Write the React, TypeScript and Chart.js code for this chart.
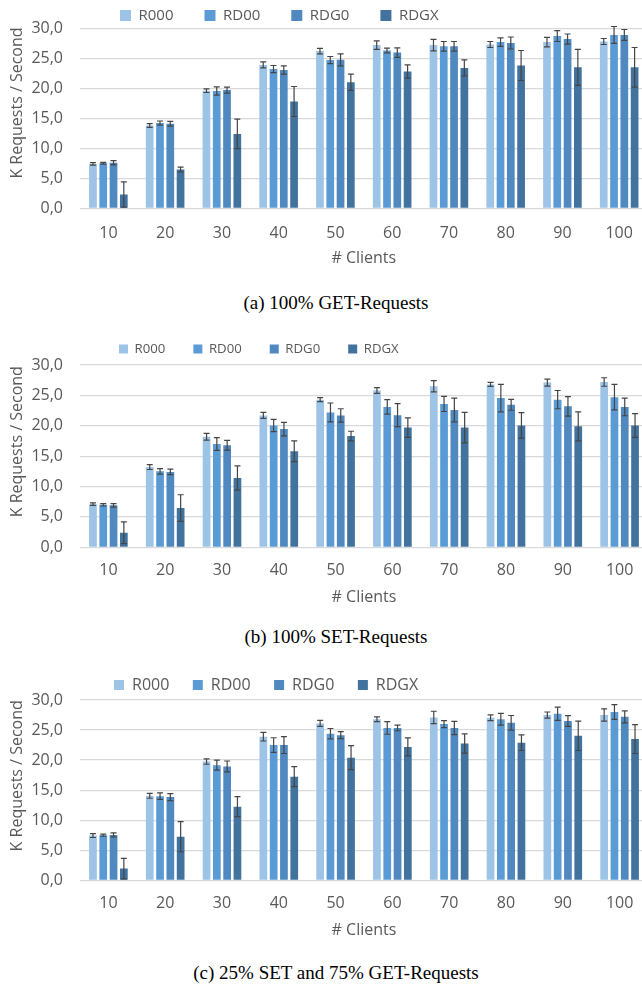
import React, { useEffect, useRef } from "react";
import { Chart, registerables } from "chart.js";

Chart.register(...registerables);

// ---------- data ----------
const clients = ["10", "20", "30", "40", "50", "60", "70", "80", "90", "100"];
const seriesNames = ["R000", "RD00", "RDG0", "RDGX"];
const seriesColors = ["#9DC3E6", "#5B9BD5", "#4F89BF", "#42729E"];
const yTicks = [0, 5, 10, 15, 20, 25, 30];
const yTitle = "K Requests / Second";
const xTitle = "# Clients";

// (a) 100% GET-Requests
const getR000 = [7.4, 13.8, 19.6, 23.9, 26.2, 27.2, 27.2, 27.3, 27.7, 27.8];
const getR000Err = [0.2, 0.3, 0.3, 0.5, 0.45, 0.7, 0.95, 0.5, 0.8, 0.5];
const getRD00 = [7.5, 14.2, 19.55, 23.2, 24.7, 26.3, 27.0, 27.7, 28.7, 28.9];
const getRD00Err = [0.15, 0.35, 0.7, 0.6, 0.6, 0.4, 0.8, 0.7, 0.9, 1.4];
const getRDG0 = [7.6, 14.1, 19.7, 23.05, 24.75, 25.95, 27.0, 27.55, 28.2, 28.9];
const getRDG0Err = [0.35, 0.4, 0.5, 0.7, 1.0, 0.8, 0.8, 1.0, 0.85, 0.9];
const getRDGX = [2.3, 6.45, 12.4, 17.8, 21.0, 22.8, 23.4, 23.8, 23.5, 23.5];
const getRDGXErr = [2.1, 0.4, 2.45, 2.5, 1.35, 1.1, 1.35, 2.5, 3.0, 3.3];

// (b) 100% SET-Requests
const setR000 = [7.1, 13.2, 18.2, 21.7, 24.3, 25.8, 26.5, 26.8, 27.1, 27.2];
const setR000Err = [0.2, 0.4, 0.55, 0.5, 0.33, 0.47, 0.93, 0.33, 0.58, 0.7];
const setRD00 = [7.0, 12.5, 17.0, 20.05, 22.2, 23.1, 23.6, 24.55, 24.3, 24.7];
const setRD00Err = [0.2, 0.45, 1.05, 1.0, 1.55, 1.2, 1.25, 2.25, 1.5, 2.1];
const setRDG0 = [6.9, 12.4, 16.8, 19.45, 21.7, 21.75, 22.6, 23.45, 23.2, 23.1];
const setRDG0Err = [0.3, 0.45, 0.8, 1.1, 1.1, 1.9, 1.95, 0.9, 1.6, 1.45];
const setRDGX = [2.4, 6.45, 11.4, 15.8, 18.3, 19.7, 19.7, 20.05, 19.9, 20.05];
const setRDGXErr = [1.8, 2.2, 2.0, 1.7, 0.8, 1.6, 2.5, 2.1, 2.4, 1.95];

// (c) 25% SET and 75% GET-Requests
const mixR000 = [7.45, 14.05, 19.75, 23.9, 26.1, 26.8, 27.1, 27.05, 27.5, 27.5];
const mixR000Err = [0.33, 0.4, 0.44, 0.72, 0.5, 0.39, 1.03, 0.47, 0.5, 1.03];
const mixRD00 = [7.5, 14.0, 19.15, 22.5, 24.4, 25.35, 26.0, 26.8, 27.7, 28.0];
const mixRD00Err = [0.17, 0.55, 0.83, 1.22, 0.86, 1.05, 0.58, 0.97, 1.1, 1.22];
const mixRDG0 = [7.55, 13.85, 18.95, 22.5, 24.15, 25.35, 25.35, 26.2, 26.5, 27.2];
const mixRDG0Err = [0.33, 0.58, 0.9, 1.4, 0.58, 0.47, 1.1, 1.22, 0.9, 1.0];
const mixRDGX = [1.95, 7.25, 12.25, 17.25, 20.4, 22.2, 22.75, 22.9, 24.05, 23.5];
const mixRDGXErr = [1.7, 2.5, 1.66, 1.66, 2.0, 1.5, 1.6, 1.3, 2.45, 2.4];

const captionA = "(a) 100% GET-Requests";
const captionB = "(b) 100% SET-Requests";
const captionC = "(c) 25% SET and 75% GET-Requests";

// ---------- styling ----------
const FONT = '"Open Sans", "Noto Sans", sans-serif';
const TEXT = "#595959";
const GRID = "#d9d9d9";

type Spec = {
  top: number;
  H: number;
  plotTop: number;
  plotH: number;
  legendC: number;
  legendFont: number;
  legendBox: number;
  legendPad: number;
  legendX: number;
  xLabC: number;
  xTitleC: number;
  yTitleC: number;
};

const errorBarPlugin = {
  id: "errorBars",
  afterDatasetsDraw(chart: any) {
    const { ctx } = chart;
    const y = chart.scales.y;
    ctx.save();
    ctx.strokeStyle = "#454545";
    ctx.lineWidth = 1.2;
    chart.data.datasets.forEach((ds: any, i: number) => {
      const meta = chart.getDatasetMeta(i);
      if (meta.hidden) return;
      meta.data.forEach((bar: any, j: number) => {
        const v = ds.data[j];
        const e = ds.errors[j];
        const yt = y.getPixelForValue(v + e);
        const yb = y.getPixelForValue(Math.max(0, v - e));
        const x = bar.x;
        ctx.beginPath();
        ctx.moveTo(x, yt);
        ctx.lineTo(x, yb);
        ctx.moveTo(x - 3, yt);
        ctx.lineTo(x + 3, yt);
        ctx.moveTo(x - 3, yb);
        ctx.lineTo(x + 3, yb);
        ctx.stroke();
      });
    });
    ctx.restore();
  },
};

function makeLayoutPlugin(spec: Spec) {
  return {
    id: "layoutFix",
    beforeLayout(chart: any) {
      const lg = chart.legend;
      if (lg && !lg.__patched) {
        const orig = lg.fit;
        lg.fit = function () {
          orig.call(this);
          this.height = spec.plotTop;
        };
        lg.__patched = true;
      }
    },
    afterLayout(chart: any) {
      const lg = chart.legend;
      if (!lg) return;
      const t = spec.legendC - spec.legendPad - spec.legendFont / 2;
      lg.top = t;
      lg.bottom = spec.plotTop - 1;
      lg.left = spec.legendX - spec.legendPad;
      lg.right = chart.width + 200;
    },
    afterDraw(chart: any) {
      const ctx = chart.ctx;
      ctx.save();
      ctx.translate(17, spec.yTitleC);
      ctx.rotate(-Math.PI / 2);
      ctx.font = `16px ${FONT}`;
      ctx.fillStyle = TEXT;
      ctx.textAlign = "center";
      ctx.textBaseline = "middle";
      ctx.fillText(yTitle, 0, 0);
      ctx.restore();
    },
  };
}

type PanelProps = {
  spec: Spec;
  values: number[][];
  errors: number[][];
};

const CANVAS_W = 648;

function BarPanel({ spec, values, errors }: PanelProps) {
  const ref = useRef<HTMLCanvasElement | null>(null);
  useEffect(() => {
    if (!ref.current) return;
    const xAxisH = spec.H - spec.plotTop - spec.plotH;
    const chart = new Chart(ref.current, {
      type: "bar",
      data: {
        labels: clients,
        datasets: seriesNames.map((name, i) => ({
          label: name,
          data: values[i],
          errors: errors[i],
          backgroundColor: seriesColors[i],
          borderWidth: 0,
          categoryPercentage: 0.725,
          barPercentage: 0.75,
        })) as any,
      },
      options: {
        responsive: false,
        animation: false,
        devicePixelRatio: 1,
        layout: { padding: 0 },
        plugins: {
          legend: {
            display: true,
            position: "top",
            align: "start",
            labels: {
              color: TEXT,
              font: { family: FONT, size: spec.legendFont },
              boxWidth: spec.legendBox,
              boxHeight: spec.legendBox,
              padding: spec.legendPad,
            },
          },
          tooltip: { enabled: false },
        },
        scales: {
          x: {
            grid: { display: false, drawTicks: false },
            border: { display: false },
            ticks: {
              color: TEXT,
              font: { family: FONT, size: 16 },
              padding: spec.xLabC - (spec.plotTop + spec.plotH) - 9.6,
            },
            title: {
              display: true,
              text: xTitle,
              color: TEXT,
              font: { family: FONT, size: 16 },
              padding: { top: 0, bottom: spec.H - spec.xTitleC - 9.6 },
            },
            afterFit: (axis: any) => {
              axis.height = xAxisH;
            },
          },
          y: {
            min: 0,
            max: 30,
            grid: { color: GRID, lineWidth: 1.3, drawTicks: false },
            border: { display: false },
            afterBuildTicks: (axis: any) => {
              axis.ticks = yTicks.map((v) => ({ value: v }));
            },
            ticks: {
              color: TEXT,
              font: { family: FONT, size: 16 },
              padding: 17,
              callback: (v: any) => Number(v).toFixed(1).replace(".", ","),
            },
            afterFit: (axis: any) => {
              axis.width = 80;
            },
          },
        },
      } as any,
      plugins: [errorBarPlugin, makeLayoutPlugin(spec)],
    });
    return () => chart.destroy();
  }, [spec, values, errors]);
  return (
    <canvas
      ref={ref}
      width={CANVAS_W}
      height={spec.H}
      style={{ position: "absolute", left: 0, top: spec.top, width: CANVAS_W, height: spec.H }}
    />
  );
}

const specA: Spec = {
  top: 0, H: 280, plotTop: 28.3, plotH: 180, legendC: 15.5, legendFont: 15, legendBox: 11,
  legendPad: 31, legendX: 120, xLabC: 233, xTitleC: 258, yTitleC: 103,
};
const specB: Spec = {
  top: 330, H: 290, plotTop: 35, plotH: 182.3, legendC: 19, legendFont: 13.2, legendBox: 9,
  legendPad: 28, legendX: 119, xLabC: 240, xTitleC: 267, yTitleC: 111.7,
};
const specC: Spec = {
  top: 660, H: 295, plotTop: 40, plotH: 180.3, legendC: 25, legendFont: 16, legendBox: 10,
  legendPad: 23.5, legendX: 114, xLabC: 243.3, xTitleC: 270, yTitleC: 115.8,
};

const valsA = [getR000, getRD00, getRDG0, getRDGX];
const errsA = [getR000Err, getRD00Err, getRDG0Err, getRDGXErr];
const valsB = [setR000, setRD00, setRDG0, setRDGX];
const errsB = [setR000Err, setRD00Err, setRDG0Err, setRDGXErr];
const valsC = [mixR000, mixRD00, mixRDG0, mixRDGX];
const errsC = [mixR000Err, mixRD00Err, mixRDG0Err, mixRDGXErr];

function Caption({ text, y }: { text: string; y: number }) {
  return (
    <div
      style={{
        position: "absolute",
        left: 336 - 250,
        width: 500,
        top: y - 11,
        height: 22,
        lineHeight: "22px",
        textAlign: "center",
        fontFamily: '"Liberation Serif", "Times New Roman", serif',
        fontSize: 19,
        color: "#000",
        whiteSpace: "nowrap",
      }}
    >
      {text}
    </div>
  );
}

export default function App() {
  return (
    <div
      style={{
        position: "absolute",
        left: 0,
        top: 0,
        width: 642,
        height: 985,
        overflow: "hidden",
        background: "#fff",
      }}
    >
      <BarPanel spec={specA} values={valsA} errors={errsA} />
      <Caption text={captionA} y={303} />
      <BarPanel spec={specB} values={valsB} errors={errsB} />
      <Caption text={captionB} y={637} />
      <BarPanel spec={specC} values={valsC} errors={errsC} />
      <Caption text={captionC} y={973} />
    </div>
  );
}
